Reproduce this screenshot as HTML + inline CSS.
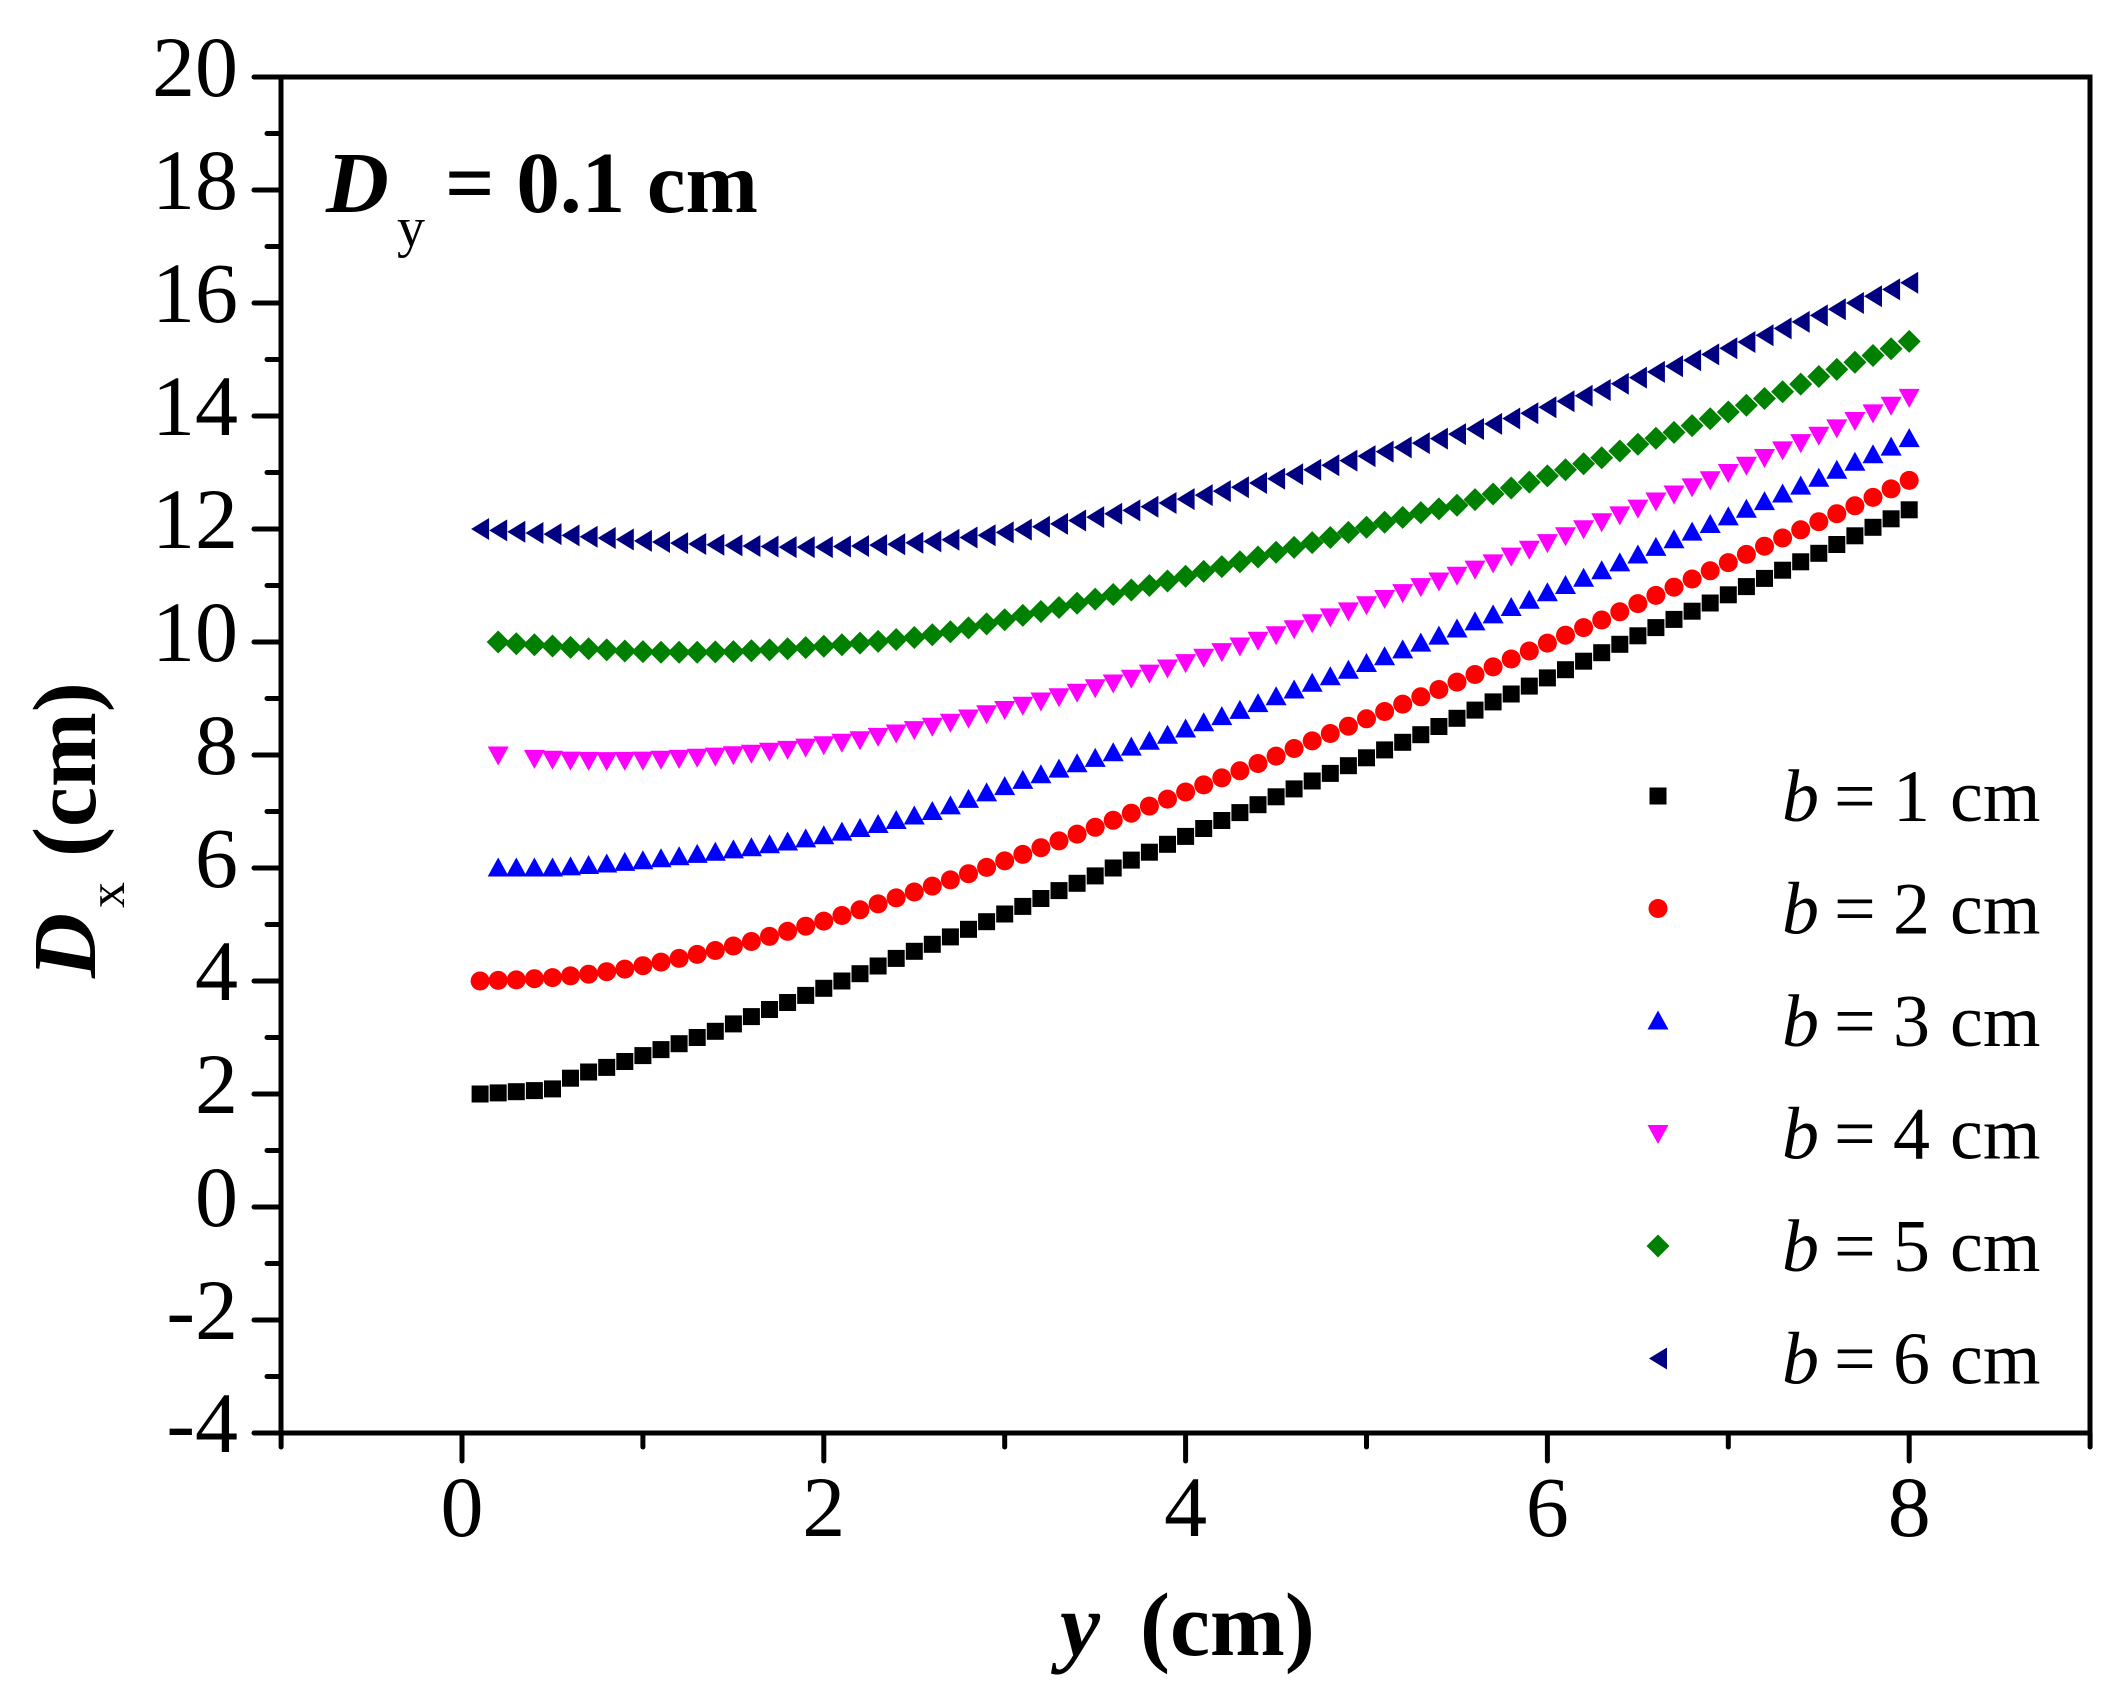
<!DOCTYPE html>
<html>
<head>
<meta charset="utf-8">
<style>
html,body{margin:0;padding:0;background:#fff;}
svg{display:block;}
text{font-family:"Liberation Serif","DejaVu Serif",serif;fill:#000;}
</style>
</head>
<body>
<svg id="chart" xmlns="http://www.w3.org/2000/svg" width="2117" height="1707" viewBox="0 0 2117 1707">
<rect x="0" y="0" width="2117" height="1707" fill="#fff"/>

<!-- y ticks -->
<g stroke="#000" stroke-width="5" stroke-linecap="round">
<line x1="254" y1="1433" x2="281" y2="1433"/>
<line x1="267" y1="1376.5" x2="281" y2="1376.5"/>
<line x1="254" y1="1320" x2="281" y2="1320"/>
<line x1="267" y1="1263.5" x2="281" y2="1263.5"/>
<line x1="254" y1="1207" x2="281" y2="1207"/>
<line x1="267" y1="1150.5" x2="281" y2="1150.5"/>
<line x1="254" y1="1094" x2="281" y2="1094"/>
<line x1="267" y1="1037.5" x2="281" y2="1037.5"/>
<line x1="254" y1="981" x2="281" y2="981"/>
<line x1="267" y1="924.5" x2="281" y2="924.5"/>
<line x1="254" y1="868" x2="281" y2="868"/>
<line x1="267" y1="811.5" x2="281" y2="811.5"/>
<line x1="254" y1="755" x2="281" y2="755"/>
<line x1="267" y1="698.5" x2="281" y2="698.5"/>
<line x1="254" y1="642" x2="281" y2="642"/>
<line x1="267" y1="585.5" x2="281" y2="585.5"/>
<line x1="254" y1="529" x2="281" y2="529"/>
<line x1="267" y1="472.5" x2="281" y2="472.5"/>
<line x1="254" y1="416" x2="281" y2="416"/>
<line x1="267" y1="359.5" x2="281" y2="359.5"/>
<line x1="254" y1="303" x2="281" y2="303"/>
<line x1="267" y1="246.5" x2="281" y2="246.5"/>
<line x1="254" y1="190" x2="281" y2="190"/>
<line x1="267" y1="133.5" x2="281" y2="133.5"/>
<line x1="254" y1="77" x2="281" y2="77"/>
</g>
<!-- x ticks -->
<g stroke="#000" stroke-width="5" stroke-linecap="round">
<line x1="281.1" y1="1433" x2="281.1" y2="1447"/>
<line x1="462" y1="1433" x2="462" y2="1461"/>
<line x1="642.9" y1="1433" x2="642.9" y2="1447"/>
<line x1="823.8" y1="1433" x2="823.8" y2="1461"/>
<line x1="1004.7" y1="1433" x2="1004.7" y2="1447"/>
<line x1="1185.6" y1="1433" x2="1185.6" y2="1461"/>
<line x1="1366.5" y1="1433" x2="1366.5" y2="1447"/>
<line x1="1547.4" y1="1433" x2="1547.4" y2="1461"/>
<line x1="1728.3" y1="1433" x2="1728.3" y2="1447"/>
<line x1="1909.2" y1="1433" x2="1909.2" y2="1461"/>
<line x1="2090.1" y1="1433" x2="2090.1" y2="1447"/>
</g>

<!-- frame -->
<rect x="281" y="77" width="1809" height="1356" fill="none" stroke="#000" stroke-width="5"/>

<!-- y tick labels -->
<g font-size="86" text-anchor="end">
<text x="238" y="1452">-4</text>
<text x="238" y="1339">-2</text>
<text x="238" y="1226">0</text>
<text x="238" y="1113">2</text>
<text x="238" y="1000">4</text>
<text x="238" y="887">6</text>
<text x="238" y="774">8</text>
<text x="238" y="661">10</text>
<text x="238" y="548">12</text>
<text x="238" y="435">14</text>
<text x="238" y="322">16</text>
<text x="238" y="209">18</text>
<text x="238" y="96">20</text>
</g>
<!-- x tick labels -->
<g font-size="86" text-anchor="middle">
<text x="462" y="1536">0</text>
<text x="823.8" y="1536">2</text>
<text x="1185.6" y="1536">4</text>
<text x="1547.4" y="1536">6</text>
<text x="1909.2" y="1536">8</text>
</g>

<!-- axis titles -->
<text x="1060" y="1655" font-size="90" font-weight="bold" font-style="italic">y</text>
<text x="1140" y="1655" font-size="90" font-weight="bold">(cm)</text>

<g transform="translate(95,978) rotate(-90)">
<text x="0" y="0" font-size="90" font-weight="bold" font-style="italic">D</text>
<text x="70" y="29" font-size="52">x</text>
<text x="121" y="0" font-size="90" font-weight="bold">(cm)</text>
</g>

<!-- annotation -->
<text x="326" y="212" font-size="87" font-weight="bold" font-style="italic">D</text>
<text x="397" y="246" font-size="56">y</text>
<text x="445" y="212" font-size="87" font-weight="bold">= 0.1 cm</text>

<!-- legend text -->
<g font-size="74">
<text y="821"><tspan x="1782" font-style="italic">b</tspan><tspan x="1834">=</tspan><tspan x="1893">1</tspan><tspan x="1950">cm</tspan></text>
<text y="933.5"><tspan x="1782" font-style="italic">b</tspan><tspan x="1834">=</tspan><tspan x="1893">2</tspan><tspan x="1950">cm</tspan></text>
<text y="1046"><tspan x="1782" font-style="italic">b</tspan><tspan x="1834">=</tspan><tspan x="1893">3</tspan><tspan x="1950">cm</tspan></text>
<text y="1158.5"><tspan x="1782" font-style="italic">b</tspan><tspan x="1834">=</tspan><tspan x="1893">4</tspan><tspan x="1950">cm</tspan></text>
<text y="1271"><tspan x="1782" font-style="italic">b</tspan><tspan x="1834">=</tspan><tspan x="1893">5</tspan><tspan x="1950">cm</tspan></text>
<text y="1383.5"><tspan x="1782" font-style="italic">b</tspan><tspan x="1834">=</tspan><tspan x="1893">6</tspan><tspan x="1950">cm</tspan></text>
</g>

<g id="series"></g>
</svg>

<script>
(function(){
var NS="http://www.w3.org/2000/svg";
var g=document.getElementById("series");
function X(v){return 462+v*180.9;}
function Y(v){return 1433-(v+4)*56.5;}
function interp(p,x){
  if(x<=p[0][0]) return p[0][1];
  for(var i=1;i<p.length;i++){
    if(x<=p[i][0]+1e-9){
      var a=p[i-1],b=p[i];
      return a[1]+(b[1]-a[1])*(x-a[0])/(b[0]-a[0]);
    }
  }
  return p[p.length-1][1];
}
function poly(pts,color){
  var e=document.createElementNS(NS,"polygon");
  e.setAttribute("points",pts.map(function(q){return q[0].toFixed(1)+","+q[1].toFixed(1);}).join(" "));
  e.setAttribute("fill",color);
  g.appendChild(e);
}
function marker(type,x,y,color){
  var e;
  if(type==="sq"){
    e=document.createElementNS(NS,"rect");
    e.setAttribute("x",(x-8.5).toFixed(1));e.setAttribute("y",(y-8.5).toFixed(1));
    e.setAttribute("width","17");e.setAttribute("height","17");
    e.setAttribute("fill",color);g.appendChild(e);
  }else if(type==="ci"){
    e=document.createElementNS(NS,"circle");
    e.setAttribute("cx",x.toFixed(1));e.setAttribute("cy",y.toFixed(1));
    e.setAttribute("r","9.5");e.setAttribute("fill",color);g.appendChild(e);
  }else if(type==="up"){
    poly([[x,y-10.5],[x+10.5,y+8.5],[x-10.5,y+8.5]],color);
  }else if(type==="dn"){
    poly([[x,y+10.5],[x+10.5,y-8.5],[x-10.5,y-8.5]],color);
  }else if(type==="di"){
    poly([[x,y-11.5],[x+11.5,y],[x,y+11.5],[x-11.5,y]],color);
  }else if(type==="le"){
    poly([[x-9,y],[x+9,y-11],[x+9,y+11]],color);
  }
}
var S=[
 {t:"sq",c:"#000000",s:1,skip:[],p:[[0.1,2.00],[0.2,2.02],[0.3,2.04],[0.4,2.06],[0.5,2.09],[0.6,2.28],[0.7,2.39],[0.8,2.47],[1.0,2.68],[1.2,2.89],[1.4,3.11],[1.6,3.37],[1.8,3.62],[2.0,3.87],[2.2,4.13],[2.4,4.40],[2.6,4.65],[2.7,4.78],[2.9,5.05],[3.1,5.32],[3.3,5.60],[3.5,5.86],[3.7,6.14],[3.9,6.42],[4.1,6.70],[4.3,6.98],[4.5,7.26],[4.7,7.54],[4.9,7.81],[5.1,8.09],[5.3,8.36],[5.5,8.65],[5.7,8.94],[5.9,9.22],[6.1,9.51],[6.3,9.81],[6.5,10.11],[6.7,10.40],[6.9,10.69],[7.1,10.98],[7.3,11.27],[7.5,11.57],[7.7,11.88],[7.9,12.18],[8.0,12.34]]},
 {t:"ci",c:"#ff0000",s:1,skip:[],p:[[0.1,4.00],[0.3,4.02],[0.5,4.06],[0.7,4.12],[0.9,4.21],[1.0,4.27],[1.2,4.40],[1.4,4.54],[1.6,4.70],[1.8,4.88],[2.0,5.06],[2.2,5.26],[2.4,5.47],[2.6,5.68],[2.7,5.79],[2.9,6.01],[3.1,6.24],[3.3,6.48],[3.5,6.72],[3.7,6.97],[3.9,7.22],[4.1,7.47],[4.3,7.72],[4.5,7.98],[4.7,8.25],[4.9,8.51],[5.1,8.77],[5.3,9.03],[5.5,9.29],[5.7,9.56],[5.9,9.84],[6.1,10.12],[6.3,10.39],[6.5,10.68],[6.7,10.97],[6.9,11.26],[7.1,11.55],[7.3,11.84],[7.5,12.13],[7.7,12.41],[7.9,12.71],[8.0,12.86]]},
 {t:"up",c:"#0000ff",s:2,skip:[],p:[[0.2,6.0],[0.5,6.0],[0.6,6.02],[0.8,6.07],[1.0,6.13],[1.2,6.20],[1.4,6.28],[1.6,6.36],[1.8,6.46],[2.0,6.57],[2.2,6.70],[2.4,6.84],[2.6,7.0],[2.7,7.10],[2.9,7.33],[3.1,7.55],[3.3,7.75],[3.5,7.94],[3.7,8.14],[3.9,8.35],[4.1,8.57],[4.3,8.79],[4.5,9.03],[4.7,9.27],[4.9,9.50],[5.1,9.74],[5.3,9.98],[5.5,10.23],[5.7,10.48],[5.9,10.74],[6.1,11.0],[6.3,11.26],[6.5,11.54],[6.7,11.81],[6.9,12.08],[7.1,12.35],[7.3,12.62],[7.5,12.90],[7.7,13.18],[7.9,13.45],[8.0,13.60]]},
 {t:"dn",c:"#ff00ff",s:2,skip:[3],p:[[0.2,8.0],[0.4,7.94],[0.6,7.91],[0.8,7.90],[1.0,7.91],[1.2,7.94],[1.4,7.98],[1.6,8.03],[1.8,8.10],[2.0,8.18],[2.2,8.27],[2.4,8.39],[2.6,8.51],[2.7,8.58],[2.9,8.73],[3.1,8.88],[3.3,9.03],[3.5,9.19],[3.7,9.36],[3.9,9.54],[4.1,9.73],[4.3,9.93],[4.5,10.13],[4.7,10.34],[4.9,10.55],[5.1,10.77],[5.3,10.98],[5.5,11.18],[5.7,11.40],[5.9,11.64],[6.1,11.88],[6.3,12.13],[6.5,12.37],[6.7,12.62],[6.9,12.87],[7.1,13.13],[7.3,13.40],[7.5,13.66],[7.7,13.92],[7.9,14.19],[8.0,14.33]]},
 {t:"di",c:"#008000",s:2,skip:[],p:[[0.2,10.0],[0.3,9.97],[0.5,9.93],[0.7,9.88],[0.9,9.84],[1.1,9.82],[1.3,9.82],[1.5,9.83],[1.7,9.86],[1.9,9.90],[2.1,9.95],[2.3,10.01],[2.5,10.08],[2.7,10.18],[2.9,10.32],[3.1,10.47],[3.3,10.61],[3.5,10.76],[3.7,10.92],[3.9,11.08],[4.1,11.25],[4.3,11.42],[4.5,11.59],[4.7,11.76],[4.9,11.94],[5.1,12.12],[5.3,12.29],[5.5,12.42],[5.7,12.62],[5.9,12.83],[6.1,13.05],[6.3,13.26],[6.5,13.50],[6.7,13.71],[6.9,13.95],[7.1,14.19],[7.3,14.43],[7.5,14.70],[7.7,14.95],[7.9,15.19],[8.0,15.32]]},
 {t:"le",c:"#000080",s:1,skip:[],p:[[0.1,12.0],[0.3,11.95],[0.5,11.91],[0.8,11.84],[1.0,11.79],[1.2,11.75],[1.4,11.72],[1.6,11.70],[1.8,11.68],[2.0,11.68],[2.2,11.70],[2.4,11.73],[2.6,11.78],[2.7,11.81],[2.9,11.89],[3.1,11.99],[3.3,12.09],[3.5,12.21],[3.7,12.33],[3.9,12.46],[4.1,12.60],[4.3,12.74],[4.5,12.89],[4.7,13.05],[4.9,13.21],[5.1,13.37],[5.3,13.52],[5.5,13.68],[5.7,13.86],[5.9,14.05],[6.1,14.26],[6.3,14.46],[6.5,14.68],[6.7,14.88],[6.9,15.09],[7.1,15.31],[7.3,15.55],[7.5,15.78],[7.7,16.0],[7.9,16.24],[8.0,16.36]]}
];
for(var i=0;i<S.length;i++){
  var s=S[i];
  for(var k=s.s;k<=80;k++){
    if(s.skip.indexOf(k)>=0) continue;
    var x=k/10;
    marker(s.t,X(x),Y(interp(s.p,x)),s.c);
  }
  marker(s.t,1658,796+i*112.5,s.c);
}
})();
</script>
</body>
</html>
